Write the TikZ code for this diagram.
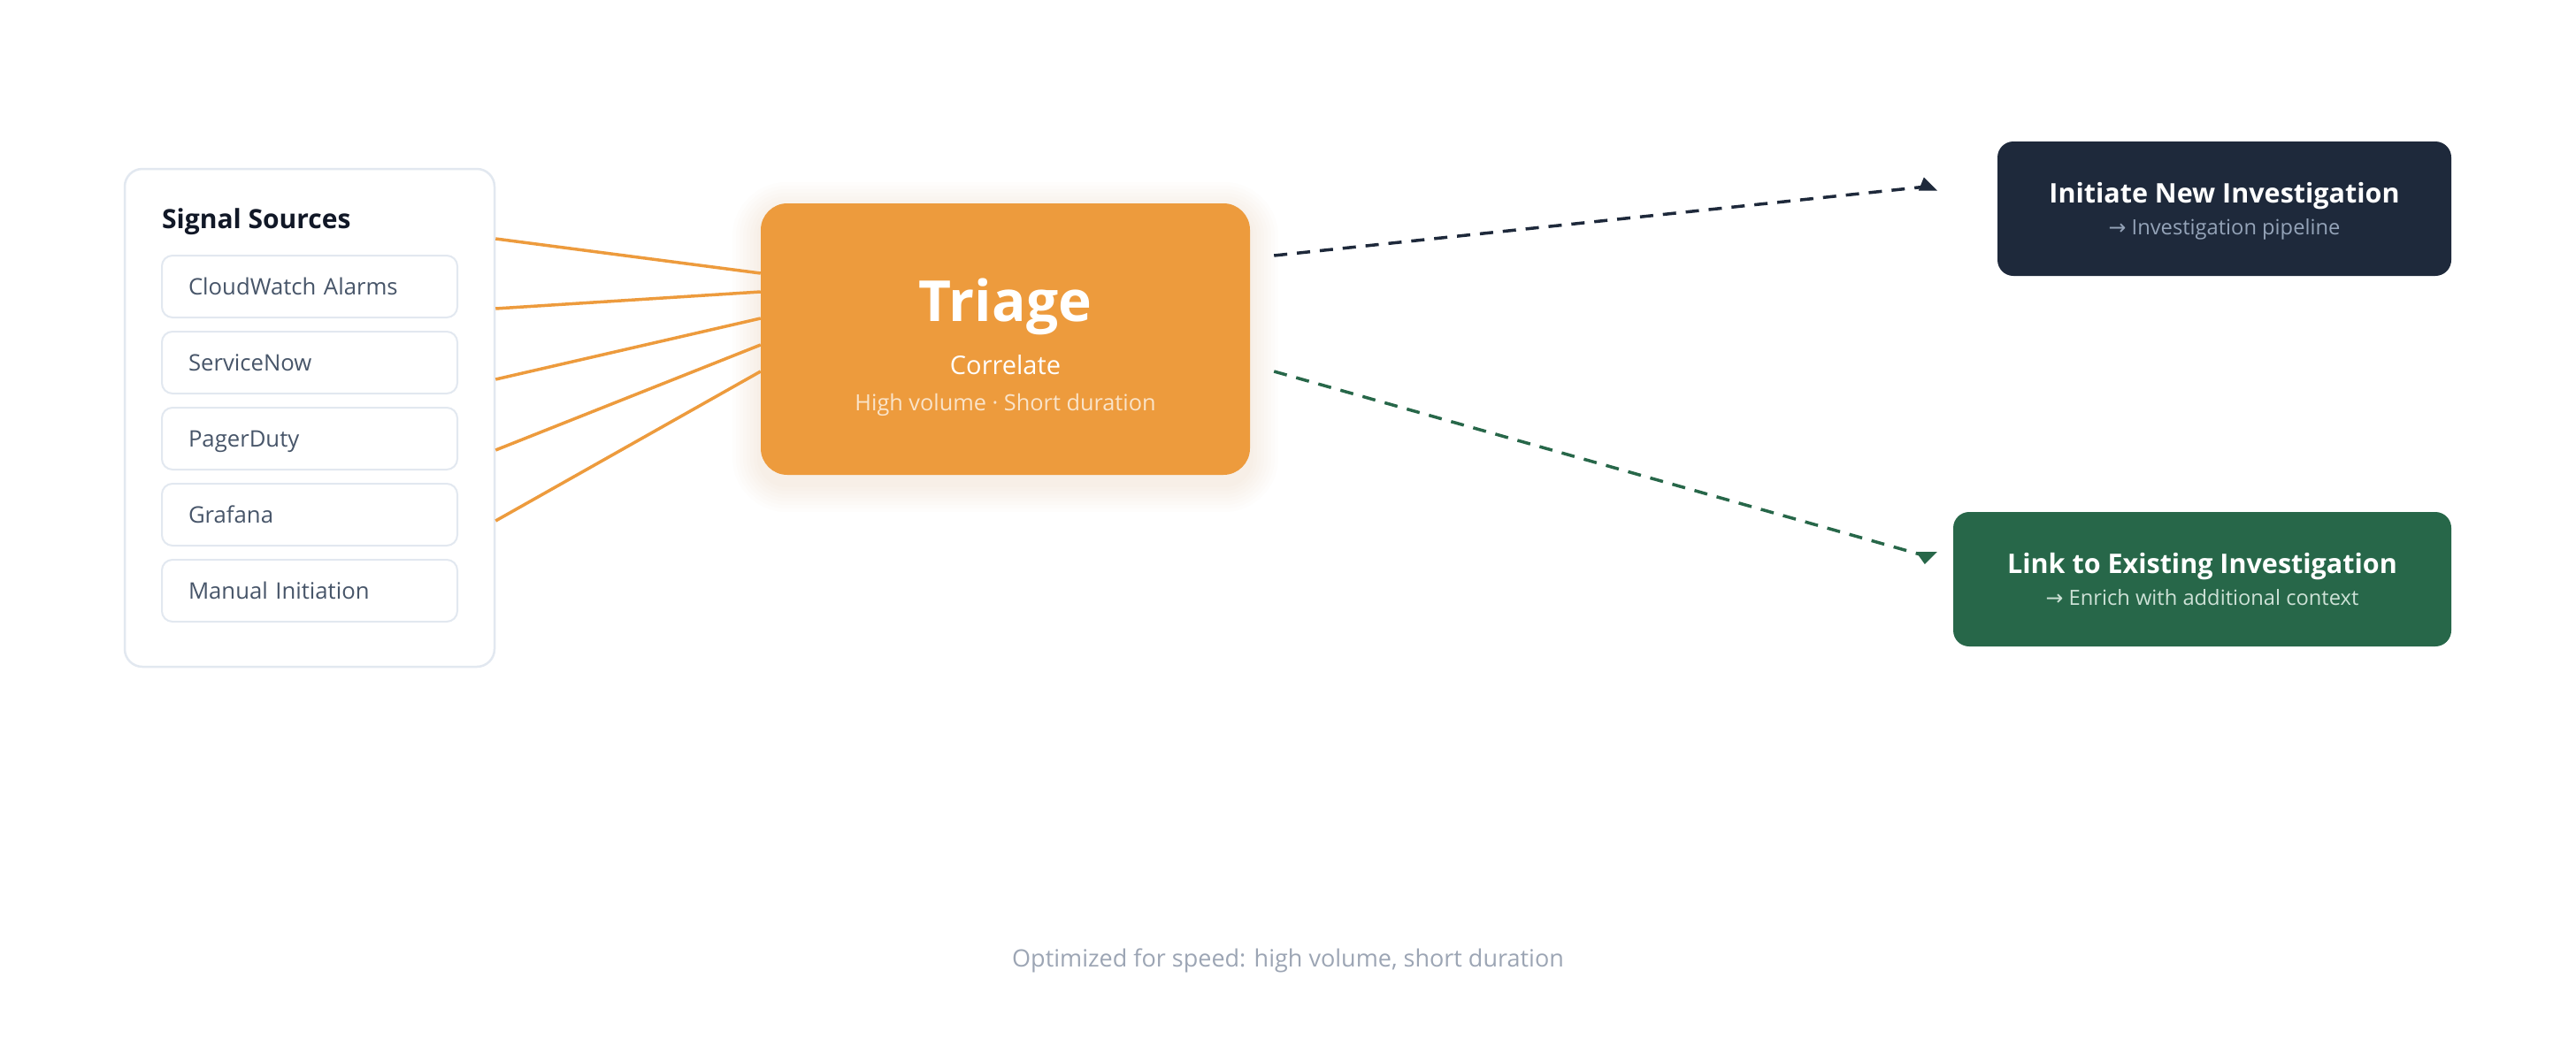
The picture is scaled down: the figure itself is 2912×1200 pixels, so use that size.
\documentclass[tikz,border=0pt]{standalone}
\usepackage{fontspec}
\IfFontExistsTF{Noto Sans Bold}
  {\setmainfont{Noto Sans}[BoldFont = {Noto Sans Bold}]}
  {\setmainfont{Open Sans}}
\newfontfamily\arrowfont{DejaVu Sans}
\usetikzlibrary{backgrounds}
\usetikzlibrary{positioning}
\definecolor{morange}{RGB}{237, 155, 61}
\definecolor{mnavy}{RGB}{30, 41, 59}
\definecolor{mgreen}{RGB}{39, 103, 73}
\definecolor{mborder}{RGB}{226, 232, 240}
\definecolor{mslate}{RGB}{71, 85, 105}
\definecolor{mink}{RGB}{17, 24, 39}
\definecolor{mgrey}{RGB}{156, 165, 180}
\definecolor{mpipe}{RGB}{148, 163, 184}
\definecolor{mmint}{RGB}{205, 225, 214}
\definecolor{mcream}{RGB}{250, 228, 202}
\newcommand{\fsz}[1]{\fontsize{#1}{#1}\selectfont}
\tikzset{panel/.style = {draw = mborder, line width = 2.5pt, fill = white, rounded corners = 20pt,
                         minimum width = 418pt, minimum height = 563pt},
         source/.style = {draw = mborder, line width = 2pt, fill = white, rounded corners = 12pt,
                          minimum height = 70pt, text width = 274pt, inner xsep = 30pt,
                          text height = 18pt, text depth = 0pt, align = left,
                          text = mslate, font = \fsz{25.7}},
         outcome/.style = {rounded corners = 18pt, minimum height = 152pt},
         label/.style = {anchor = base, inner sep = 0pt},
         feed/.style = {morange, line width = 3.5pt},
         branch/.style = {line width = 3.5pt, dash pattern = on 15pt off 11pt}}

\begin{document}
\begin{tikzpicture}[x = 1pt, y = -1pt]
  \useasboundingbox (0, 0) rectangle (2912, 1200);

  % signal sources
  \node [panel] (panel) at (350, 472.5) {};
  \node [label, anchor = base west, font = \bfseries\fsz{30}, text = mink] (srctitle) at (183, 258) {Signal Sources};
  \node [source] (cloudwatch) at (350, 324) {CloudWatch Alarms};
  \node [source] (servicenow) at (350, 410) {ServiceNow};
  \node [source] (pagerduty) at (350, 496) {PagerDuty};
  \node [source] (grafana) at (350, 582) {Grafana};
  \node [source] (manual) at (350, 668) {Manual Initiation};

  % triage
  \node [fill = morange, rounded corners = 30pt, minimum width = 553pt, minimum height = 307pt] (triage) at (1136.5, 383.5) {};
  \node [label, font = \bfseries\fsz{64}, text = white] (triagetitle) at (1136.5, 363) {Triage};
  \node [label, font = \fsz{29}, text = white] (correlate) at (1136.5, 423) {Correlate};
  \node [label, font = \fsz{25.3}, text = mcream] (volume) at (1136.5, 464) {High volume · Short duration};

  \begin{pgfonlayer}{background}
    \fill [white] (0, 0) rectangle (2912, 1200);
    \foreach \g in {4, 8, ..., 32}
      \fill [morange, opacity = 0.012, rounded corners = 30pt + \g*1pt]
        ([xshift = -\g*1pt, yshift = \g*1pt - 8pt]triage.north west)
        rectangle ([xshift = \g*1pt, yshift = -\g*1pt - 10pt]triage.south east);
  \end{pgfonlayer}

  \draw [feed] ([yshift = 202.5pt]panel.east) -- ([yshift = 74.5pt]triage.west);
  \draw [feed] ([yshift = 123.5pt]panel.east) -- ([yshift = 53.5pt]triage.west);
  \draw [feed] ([yshift = 43.5pt]panel.east) -- ([yshift = 23.5pt]triage.west);
  \draw [feed] ([yshift = -36.5pt]panel.east) -- ([yshift = -6.5pt]triage.west);
  \draw [feed] ([yshift = -116.5pt]panel.east) -- ([yshift = -36.5pt]triage.west);

  % outcomes
  \node [outcome, fill = mnavy, minimum width = 513pt] (newinv) at (2514.5, 236) {};
  \node [label, font = \bfseries\fsz{30.5}, text = white] (newtitle) at (2514.5, 229) {Initiate New Investigation};
  \node [label, font = \fsz{23.7}, text = mpipe] (newsub) at (2514.5, 265) {{\arrowfont →} Investigation pipeline};

  \node [outcome, fill = mgreen, minimum width = 563pt] (linkinv) at (2489.5, 655) {};
  \node [label, font = \bfseries\fsz{30.5}, text = white] (linktitle) at (2489.5, 648) {Link to Existing Investigation};
  \node [label, font = \fsz{23.7}, text = mmint] (linksub) at (2489.5, 684) {{\arrowfont →} Enrich with additional context};

  \coordinate (newend) at ([xshift = -80pt, yshift = 25pt]newinv.west);
  \coordinate (linkend) at ([xshift = -30pt, yshift = 26pt]linkinv.west);
  \draw [branch, mnavy] ([xshift = 27pt, yshift = 94.5pt]triage.east) -- (newend);
  \draw [branch, mgreen] ([xshift = 27pt, yshift = -36.5pt]triage.east) -- (linkend);
  \fill [mnavy] ([xshift = -9pt, yshift = -4.5pt]newend) -- ([xshift = 12pt, yshift = -4.5pt]newend)
    -- ([xshift = -3pt, yshift = 10.5pt]newend) -- cycle;
  \fill [mgreen] ([xshift = -12pt, yshift = 5pt]linkend) -- ([xshift = 12pt, yshift = 5pt]linkend)
    -- ([xshift = -2pt, yshift = -9pt]linkend) -- cycle;

  \node [label, font = \fsz{27}, text = mgrey] (footer) at (1456, 1093) {Optimized for speed: high volume, short duration};
\end{tikzpicture}
\end{document}
